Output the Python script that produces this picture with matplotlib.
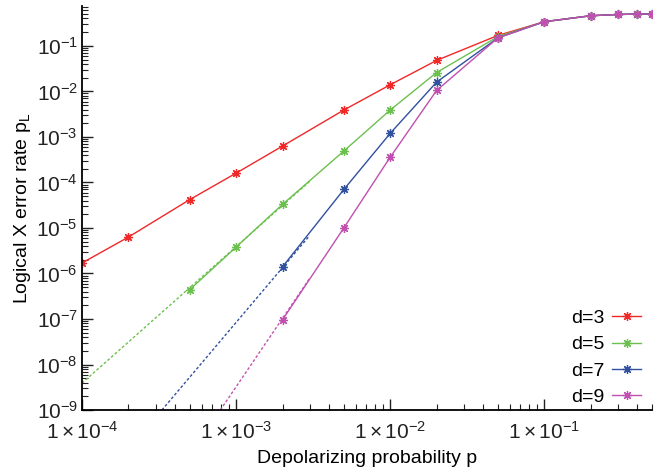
import matplotlib
matplotlib.use('Agg')
import matplotlib.pyplot as plt
from matplotlib.ticker import LogLocator, FuncFormatter, NullFormatter
import numpy as np

plt.rcParams['font.family'] = ['Liberation Sans', 'DejaVu Sans']
plt.rcParams['mathtext.fontset'] = 'custom'
plt.rcParams['mathtext.rm'] = 'Liberation Sans'
plt.rcParams['mathtext.it'] = 'Liberation Sans:italic'

# depolarizing probability values
p3 = [1e-4, 2e-4, 5e-4, 1e-3, 2e-3, 5e-3, 1e-2, 2e-2, 5e-2, 0.1, 0.2, 0.3, 0.4, 0.5]
pl3 = [1.7e-6, 6.3e-6, 4.2e-5, 1.6e-4, 6.3e-4, 3.9e-3, 1.4e-2, 4.8e-2, 0.17, 0.34, 0.46, 0.49, 0.50, 0.50]

p5 = [5e-4, 1e-3, 2e-3, 5e-3, 1e-2, 2e-2, 5e-2, 0.1, 0.2, 0.3, 0.4, 0.5]
pl5 = [4.4e-7, 3.8e-6, 3.3e-5, 4.9e-4, 3.9e-3, 2.6e-2, 0.16, 0.34, 0.46, 0.49, 0.50, 0.50]

p7 = [2e-3, 5e-3, 1e-2, 2e-2, 5e-2, 0.1, 0.2, 0.3, 0.4, 0.5]
pl7 = [1.4e-6, 7.0e-5, 1.2e-3, 1.6e-2, 0.15, 0.34, 0.46, 0.49, 0.50, 0.50]

p9 = [2e-3, 5e-3, 1e-2, 2e-2, 5e-2, 0.1, 0.2, 0.3, 0.4, 0.5]
pl9 = [9.6e-8, 1.0e-5, 3.6e-4, 1.05e-2, 0.15, 0.34, 0.46, 0.49, 0.50, 0.50]

# low-p fit lines (end points, straight on log-log)
fit5_x = [1e-4, 3e-3]
fit5_y = [3.9e-9, 1.05e-4]
fit7_x = [3.3e-4, 3e-3]
fit7_y = [1e-9, 6.8e-6]
fit9_x = [7.9e-4, 3e-3]
fit9_y = [1e-9, 7.8e-7]

labels = ['d=3', 'd=5', 'd=7', 'd=9']
colors = ['#f02828', '#6cc050', '#3050a0', '#c050b0']

fig = plt.figure(figsize=(6.54, 4.67), dpi=100)
ax = fig.add_axes([0.1254, 0.122, 0.8716, 0.865])

series = [(p3, pl3), (p5, pl5), (p7, pl7), (p9, pl9)]
for (x, y), lab, c in zip(series, labels, colors):
    ax.plot(x, y, color=c, lw=1.0, marker=(8, 2, 0), ms=6.5, mew=0.9, label=lab)

fits = [(fit5_x, fit5_y, colors[1]), (fit7_x, fit7_y, colors[2]), (fit9_x, fit9_y, colors[3])]
for fx, fy, c in fits:
    ax.plot(fx, fy, color=c, lw=1.0, ls=(0, (2, 1.5)))

ax.set_xscale('log')
ax.set_yscale('log')
ax.set_xlim(1e-4, 0.5)
ax.set_ylim(1e-9, 0.75)

ax.xaxis.set_major_locator(LogLocator(base=10, numticks=10))
ax.xaxis.set_minor_locator(LogLocator(base=10, subs=np.arange(2, 10), numticks=20))
ax.yaxis.set_major_locator(LogLocator(base=10, numticks=12))
ax.yaxis.set_minor_locator(LogLocator(base=10, subs=np.arange(2, 10), numticks=20))
ax.xaxis.set_minor_formatter(NullFormatter())
ax.yaxis.set_minor_formatter(NullFormatter())
ax.xaxis.set_major_formatter(FuncFormatter(
    lambda v, pos: r'$\mathregular{1\times10^{%d}}$' % round(np.log10(v))))
ax.yaxis.set_major_formatter(FuncFormatter(
    lambda v, pos: r'$\mathregular{10^{%d}}$' % round(np.log10(v))))

ax.spines['top'].set_visible(False)
ax.spines['right'].set_visible(False)
ax.spines['left'].set_linewidth(1.3)
ax.spines['bottom'].set_linewidth(1.3)
ax.tick_params(which='both', direction='in', labelsize=15, colors='#222222')
ax.tick_params(which='major', length=8, width=1.0)
ax.tick_params(axis='y', which='major', pad=3)
ax.tick_params(axis='x', which='major', pad=8)
ax.tick_params(which='minor', length=4, width=0.8)

ax.set_xlabel('Depolarizing probability p', fontsize=14, labelpad=5)
ax.set_ylabel(r'Logical X error rate p$_\mathregular{L}$', fontsize=14, labelpad=2)

ax.legend(loc='lower right', bbox_to_anchor=(0.988, 0.0), frameon=False,
          markerfirst=False, fontsize=14, handlelength=1.5, handletextpad=0.4,
          labelspacing=0.45, borderaxespad=0.0, borderpad=0.2)

fig.savefig('out.png', dpi=100)
